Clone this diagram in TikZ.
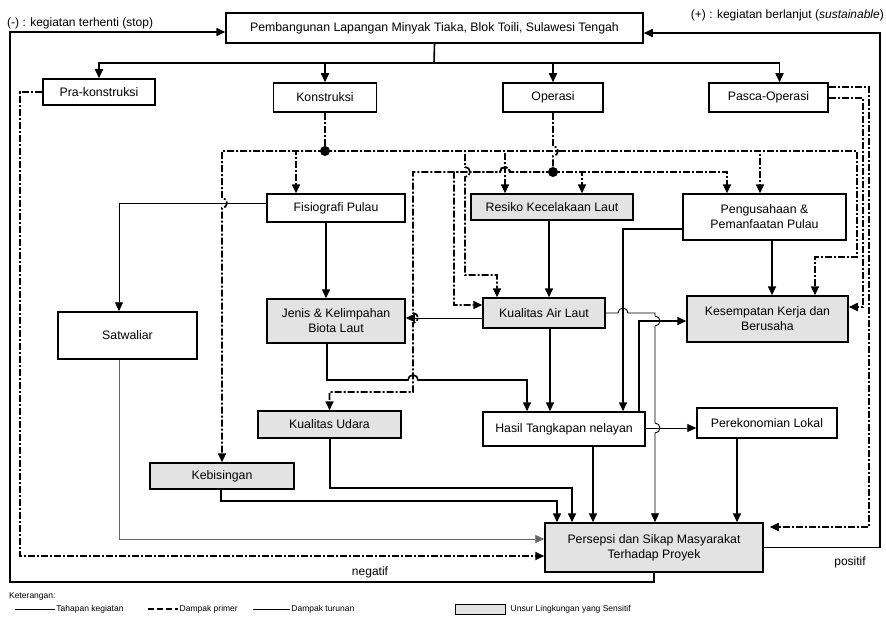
\documentclass[tikz,border=0pt]{standalone}
\usepackage{fontspec}
\setmainfont{Liberation Sans}
\usetikzlibrary{arrows.meta,positioning}
\definecolor{sensitif}{HTML}{E3E3E3}

\begin{document}
\begin{tikzpicture}[x=1pt,y=-1pt,>={Triangle[length=9pt,width=8pt]},
    kotak/.style={draw,line width=1.5pt,align=center,inner sep=1pt,
                  font=\fontsize{12.3}{15}\selectfont},
    peka/.style={kotak,fill=sensitif},
    tahap/.style={line width=1.6pt},
    primer/.style={line width=1.7pt,dash pattern=on 7pt off 2pt on 2pt off 2pt},
    tipis/.style={line width=0.9pt},
    titik/.style={circle,fill,inner sep=0pt,minimum size=10pt},
    lbl/.style={font=\fontsize{12}{14}\selectfont,inner sep=1pt},
    kecil/.style={font=\fontsize{8.5}{10}\selectfont,inner sep=1pt}]
  \useasboundingbox[fill=white] (0,0) rectangle (886,618);

  \node[kotak,minimum width=417pt,minimum height=30pt] (proyek) at (434.5,28)
       {Pembangunan Lapangan Minyak Tiaka, Blok Toili, Sulawesi Tengah};
  \node[kotak,minimum width=112pt,minimum height=26pt] (pra) at (99,92) {Pra-konstruksi};
  \node[kotak,minimum width=103pt,minimum height=29pt] (kons) at (325,97.5) {Konstruksi};
  \node[kotak,minimum width=100pt,minimum height=29pt] (oper) at (553,97.5) {Operasi};
  \node[kotak,minimum width=119pt,minimum height=29pt] (pasca) at (768.5,97.5) {Pasca-Operasi};
  \node[kotak,minimum width=138pt,minimum height=28pt] (fisio) at (336,208) {Fisiografi Pulau};
  \node[peka,minimum width=162pt,minimum height=26pt] (resiko) at (552,207) {Resiko Kecelakaan Laut};
  \node[kotak,minimum width=163pt,minimum height=46pt] (usaha) at (764.5,217)
       {Pengusahaan \&\\Pemanfaatan Pulau};
  \node[kotak,minimum width=139pt,minimum height=47pt] (satwa) at (127.5,335.5) {Satwaliar};
  \node[peka,minimum width=138pt,minimum height=44pt] (jenis) at (336,321)
       {Jenis \& Kelimpahan\\Biota Laut};
  \node[peka,minimum width=122pt,minimum height=30pt] (airlaut) at (544,313) {Kualitas Air Laut};
  \node[peka,minimum width=161pt,minimum height=46pt] (kerja) at (767.5,319)
       {Kesempatan Kerja dan\\Berusaha};
  \node[peka,minimum width=143pt,minimum height=27pt] (udara) at (329.5,424.5) {Kualitas Udara};
  \node[kotak,minimum width=162pt,minimum height=34pt] (hasil) at (564,429) {Hasil Tangkapan nelayan};
  \node[kotak,minimum width=140pt,minimum height=30pt] (ekonomi) at (767,423) {Perekonomian Lokal};
  \node[peka,minimum width=144pt,minimum height=26pt] (bising) at (222,476) {Kebisingan};
  \node[peka,minimum width=218pt,minimum height=49pt] (persepsi) at (654,547.5)
       {Persepsi dan Sikap Masyarakat\\Terhadap Proyek};

  \node[lbl,anchor=west] (stop) at (6,23) {(-) : kegiatan terhenti (stop)};
  \node[lbl,anchor=east] (lanjut) at (885,15) {(+) : kegiatan berlanjut (\textit{sustainable})};
  \node[lbl] (neg) at (370,572) {negatif};
  \node[lbl] (pos) at (850,562) {positif};

  \coordinate (bus) at (434,63);
  \draw[tahap] (proyek.south) -- (bus);
  \draw[tahap,->] (bus) -| (pra.north);
  \draw[tahap,->] (bus) -| (kons.north);
  \draw[tahap,->] (bus) -| (oper.north);
  \draw[tahap,->] (bus) -| ([xshift=11pt]pasca.north);
  \draw[tahap,->] (persepsi.south) |- (10,582) |- (proyek.west |- 0,32);
  \draw[tahap,->] (persepsi.east) -| (880,33) -- (proyek.east |- 0,33);

  \node[titik] (kdot) at (325,151) {};
  \node[titik] (odot) at (553,172) {};
  \draw[primer] (kons.south) -- (kdot);
  \draw[primer,->] (kdot.center) -| (fisio.north -| 296,0);
  \draw[primer,->] (kdot.center) -- (222,151) -- (222,198)
       arc[start angle=90,end angle=-90,radius=5pt] -- (bising.north);
  \draw[primer,->] (kdot.center) -| (resiko.north -| 505,0);
  \draw[primer,->] (kdot.center) -| (usaha.north -| 760,0);
  \draw[primer,->] (kdot.center) -- (857,151) |- (815,257) -- (kerja.north -| 815,0);
  \draw[primer,->] (kdot.center) -| (465,167)
       arc[start angle=90,end angle=-90,radius=5pt] |- (497,275) -- (airlaut.north -| 497,0);
  \draw[primer] (oper.south) -- (553,146)
       arc[start angle=90,end angle=-90,radius=5pt] -- (odot.center);
  \draw[primer,->] (odot.center) -| (resiko.north -| 582,0);
  \draw[primer,->] (odot.center) -| (usaha.north -| 727,0);
  \draw[primer,->] (odot.center) -- (510,172) arc[start angle=0,end angle=180,radius=5pt]
       -| (454,305) -- (airlaut.west |- 0,305);
  \draw[primer,->] (odot.center) -- (510,172) arc[start angle=0,end angle=180,radius=5pt]
       -- (413,172) -- (413,313) arc[start angle=90,end angle=-90,radius=5pt]
       -- (413,392) -| (udara.north);
  \draw[primer,->] (pasca.east |- 0,87) -| (869,527) -- ([xshift=6pt]persepsi.east |- 0,527);
  \draw[primer,->] (pasca.east |- 0,98) -| (863,307) -- (kerja.east |- 0,307);
  \draw[primer,->] (pra.west) -| (20,556) -- (persepsi.west |- 0,556);

  \draw[tahap,->] (fisio.south -| 326,0) -- (jenis.north -| 326,0);
  \draw[tipis,->] (fisio.west |- 0,203) -| (satwa.north -| 119,0);
  \draw[tahap,->] (resiko.south -| 549,0) -- (airlaut.north -| 549,0);
  \draw[tipis,->] (airlaut.west |- 0,318) -- (jenis.east |- 0,318);
  \draw[tahap,->] (jenis.south -| 327,0) -- (327,380) -- (408,380)
       arc[start angle=180,end angle=0,radius=5pt] -| (hasil.north -| 527,0);
  \draw[tahap,->] (airlaut.south -| 550,0) -- (hasil.north -| 550,0);
  \draw[tahap,->] (usaha.west |- 0,229) -| (hasil.north -| 623,0);
  \draw[tipis,->] (airlaut.east |- 0,313) -- (618,313)
       arc[start angle=180,end angle=0,radius=5pt] -- (655,313) -- (655,316)
       arc[start angle=90,end angle=-90,radius=5pt] -- (655,423)
       arc[start angle=90,end angle=-90,radius=5pt] -- (persepsi.north -| 655,0);
  \draw[tahap,->] (hasil.north -| 639,0) |- (kerja.west |- 0,321);
  \draw[tipis,->] (hasil.east |- 0,428) -- (ekonomi.west |- 0,428);
  \draw[tahap,->] (ekonomi.south -| 737,0) -- (persepsi.north -| 737,0);
  \draw[tahap,->] (hasil.south -| 593,0) -- (persepsi.north -| 593,0);
  \draw[tahap,->] (udara.south -| 330,0) |- (572,488) -- (persepsi.north -| 572,0);
  \draw[tahap,->] (bising.south -| 221,0) |- (557,501) -- (persepsi.north -| 557,0);
  \draw[tipis,black!60,->] (satwa.south -| 119,0) |- (persepsi.west |- 0,539);
  \draw[tahap,->] (usaha.south -| 772,0) -- (kerja.north -| 772,0);

  \node[kecil,anchor=west] (ket) at (8,596) {Keterangan:};
  \coordinate (k1) at (15,609);
  \coordinate (k2) at (148,609);
  \coordinate (k3) at (253,609);
  \draw[line width=0.8pt] (k1) -- ++(40,0) node[kecil,right] (tk1) {Tahapan kegiatan};
  \draw[line width=1.4pt,dash pattern=on 6pt off 3pt] (k2) -- ++(30,0)
       node[kecil,right] (tk2) {Dampak primer};
  \draw[line width=0.8pt] (k3) -- ++(37,0) node[kecil,right] (tk3) {Dampak turunan};
  \node[draw,line width=1pt,fill=sensitif,minimum width=50pt,minimum height=10pt] (k4) at (480,609) {};
  \node[kecil,right=4pt of k4] (tk4) {Unsur Lingkungan yang Sensitif};
\end{tikzpicture}
\end{document}
